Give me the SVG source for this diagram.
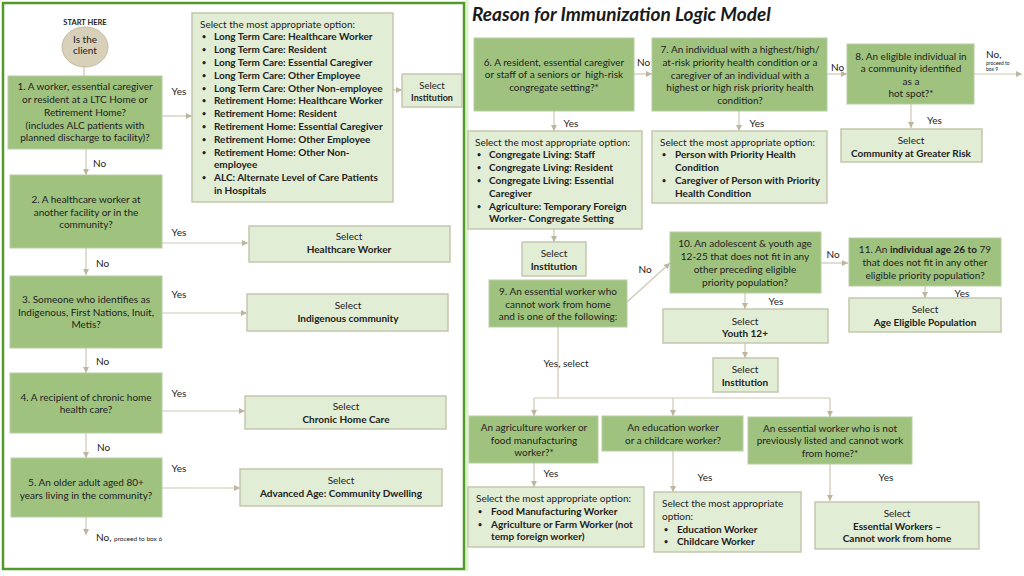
<svg xmlns="http://www.w3.org/2000/svg" width="1024" height="576" viewBox="0 0 1024 576">
<defs>
<marker id="arr" markerUnits="userSpaceOnUse" markerWidth="6" markerHeight="6" refX="6" refY="3" orient="auto">
<path d="M0,0 L6,3 L0,6 z" fill="#bdb59c"/>
</marker>
<style>
text{font-family:Lato,"Liberation Sans",sans-serif;font-size:10px;fill:#222}
.q{fill:#9fc37f;stroke:#b9cca4;stroke-width:1}
.a{fill:#e1edd5;stroke:#c6c6ae;stroke-width:1.5}
.c{fill:none;stroke:#cdc7b4;stroke-width:1.2}
.ar{marker-end:url(#arr)}
.m{text-anchor:middle}
.b{font-weight:bold}
.bu{font-size:7px;font-weight:bold}
</style>
</defs>
<rect x="0" y="0" width="1024" height="576" fill="#ffffff"/>
<rect x="465.5" y="0" width="3" height="571" fill="#ddf3cc"/>
<rect x="3" y="3" width="461" height="566" fill="none" stroke="#529a2c" stroke-width="2.5"/>
<text x="472" y="21" style="font-size:19px;font-weight:bold;font-style:italic;fill:#1a1a1a">Reason for Immunization Logic Model</text>

<g id="connectors">
<line class="c" x1="84" y1="67" x2="84" y2="76"/>
<line class="c ar" x1="162" y1="116" x2="192" y2="116"/>
<line class="c ar" x1="393" y1="90" x2="402" y2="90"/>
<line class="c ar" x1="86" y1="149" x2="86" y2="175"/>
<line class="c ar" x1="162" y1="243" x2="248" y2="243"/>
<line class="c ar" x1="86" y1="248" x2="86" y2="275"/>
<line class="c ar" x1="162" y1="313" x2="247" y2="313"/>
<line class="c ar" x1="86" y1="348" x2="86" y2="373"/>
<line class="c ar" x1="162" y1="411" x2="245" y2="411"/>
<line class="c ar" x1="86" y1="433" x2="86" y2="458"/>
<line class="c ar" x1="162" y1="488" x2="240" y2="488"/>
<line class="c ar" x1="86" y1="517" x2="86" y2="535"/>
<line class="c ar" x1="634" y1="74" x2="652" y2="74"/>
<line class="c ar" x1="827" y1="74" x2="847" y2="74"/>
<line class="c ar" x1="974" y1="74" x2="1022" y2="74"/>
<line class="c ar" x1="554" y1="111" x2="554" y2="131"/>
<line class="c ar" x1="739" y1="111" x2="739" y2="131"/>
<line class="c ar" x1="911" y1="104" x2="911" y2="128"/>
<line class="c ar" x1="554" y1="229" x2="554" y2="242"/>
<line class="c ar" x1="627" y1="302" x2="670" y2="263"/>
<line class="c ar" x1="821" y1="263" x2="848" y2="263"/>
<line class="c ar" x1="925" y1="286" x2="925" y2="298"/>
<line class="c ar" x1="745" y1="293" x2="745" y2="309"/>
<line class="c ar" x1="745" y1="343" x2="745" y2="358"/>
<line class="c" x1="558" y1="327" x2="558" y2="398"/>
<line class="c" x1="534" y1="398" x2="830" y2="398"/>
<line class="c ar" x1="534" y1="398" x2="534" y2="416"/>
<line class="c ar" x1="673" y1="398" x2="673" y2="416"/>
<line class="c ar" x1="830" y1="398" x2="830" y2="417"/>
<line class="c ar" x1="534" y1="463" x2="534" y2="487"/>
<line class="c ar" x1="673" y1="451" x2="673" y2="492"/>
<line class="c ar" x1="830" y1="464" x2="830" y2="501"/>
<text class="m" x="179" y="94.5">Yes</text>
<text x="93" y="166.5">No</text>
<text class="m" x="179" y="235.5">Yes</text>
<text x="96" y="266.5">No</text>
<text class="m" x="179" y="297.5">Yes</text>
<text x="96" y="364.5">No</text>
<text class="m" x="179" y="396.5">Yes</text>
<text x="97" y="450.5">No</text>
<text class="m" x="179" y="471.5">Yes</text>
<text x="96" y="540.5">No, <tspan style="font-size:6.5px">proceed to box 6</tspan></text>
<text class="m" x="643.5" y="65.5">No</text>
<text class="m" x="837.5" y="70.5">No</text>
<text x="986" y="57.5">No,</text>
<text x="986" y="64.5" style="font-size:5px">proceed to</text>
<text x="986" y="71" style="font-size:5px">box 9</text>
<text class="m" x="571" y="126.5">Yes</text>
<text class="m" x="757" y="126.5">Yes</text>
<text class="m" x="934.5" y="123.5">Yes</text>
<text class="m" x="645" y="272.5">No</text>
<text class="m" x="833" y="257.5">No</text>
<text class="m" x="962" y="296.5">Yes</text>
<text class="m" x="776" y="304.5">Yes</text>
<text class="m" x="566" y="366.5">Yes, select</text>
<text class="m" x="551" y="476.5">Yes</text>
<text class="m" x="705" y="480.5">Yes</text>
<text class="m" x="886" y="480.5">Yes</text>
</g>

<g id="start">
<text class="m b" x="85" y="24.5" style="font-size:7.5px">START HERE</text>
<ellipse cx="85" cy="47" rx="23" ry="20" fill="#d9d0b9" stroke="#c4bba2" stroke-width="1"/>
<text class="m" x="85" y="42.5">Is the</text>
<text class="m" x="85" y="53.5">client</text>
</g>

<g id="q1">
<rect class="q" x="8" y="76" width="154" height="73"/>
<text class="m" x="85" y="90">1. A worker, essential caregiver</text>
<text class="m" x="85" y="103">or resident at a LTC Home or</text>
<text class="m" x="85" y="116">Retirement Home?</text>
<text class="m" x="85" y="129">(includes ALC patients with</text>
<text class="m" x="85" y="141">planned discharge to facility)?</text>
</g>

<g id="opt-ltc">
<rect class="a" x="192" y="13" width="201" height="189"/>
<text x="200" y="27.5">Select the most appropriate option:</text>
<text class="bu" x="202" y="39">•</text><text class="b" x="214" y="39.5">Long Term Care: Healthcare Worker</text>
<text class="bu" x="202" y="52">•</text><text class="b" x="214" y="52.5">Long Term Care: Resident</text>
<text class="bu" x="202" y="65">•</text><text class="b" x="214" y="65.5">Long Term Care: Essential Caregiver</text>
<text class="bu" x="202" y="78">•</text><text class="b" x="214" y="78.5">Long Term Care: Other Employee</text>
<text class="bu" x="202" y="91">•</text><text class="b" x="214" y="91.5">Long Term Care: Other Non-employee</text>
<text class="bu" x="202" y="103">•</text><text class="b" x="214" y="103.5">Retirement Home: Healthcare Worker</text>
<text class="bu" x="202" y="116">•</text><text class="b" x="214" y="116.5">Retirement Home: Resident</text>
<text class="bu" x="202" y="129">•</text><text class="b" x="214" y="129.5">Retirement Home: Essential Caregiver</text>
<text class="bu" x="202" y="142">•</text><text class="b" x="214" y="142.5">Retirement Home: Other Employee</text>
<text class="bu" x="202" y="155">•</text><text class="b" x="214" y="155.5">Retirement Home: Other Non-</text>
<text class="b" x="214" y="167.5">employee</text>
<text class="bu" x="202" y="180">•</text><text class="b" x="214" y="180.5">ALC: Alternate Level of Care Patients</text>
<text class="b" x="214" y="193.5">in Hospitals</text>
</g>

<g id="sel-inst-1">
<rect class="a" x="402" y="74" width="60" height="33"/>
<text class="m" x="432" y="88.5" style="font-size:9.5px">Select</text>
<text class="m b" x="432" y="100.5" style="font-size:9px">Institution</text>
</g>

<g id="q2">
<rect class="q" x="10" y="175" width="152" height="73"/>
<text class="m" x="86" y="203">2. A healthcare worker at</text>
<text class="m" x="86" y="215.5">another facility or in the</text>
<text class="m" x="86" y="228">community?</text>
</g>
<g id="sel-hw">
<rect class="a" x="249" y="226" width="201" height="36"/>
<text class="m" x="349" y="239.5">Select</text>
<text class="m b" x="349" y="252.5">Healthcare Worker</text>
</g>

<g id="q3">
<rect class="q" x="10" y="276" width="152" height="72"/>
<text class="m" x="86" y="302.5">3. Someone who identifies as</text>
<text class="m" x="86" y="315.5">Indigenous, First Nations, Inuit,</text>
<text class="m" x="86" y="327.5">Metis?</text>
</g>
<g id="sel-ind">
<rect class="a" x="247" y="294" width="201" height="37"/>
<text class="m" x="348" y="308.5">Select</text>
<text class="m b" x="348" y="321.5">Indigenous community</text>
</g>

<g id="q4">
<rect class="q" x="10" y="373" width="152" height="60"/>
<text class="m" x="86" y="400.5">4. A recipient of chronic home</text>
<text class="m" x="86" y="412.5">health care?</text>
</g>
<g id="sel-chc">
<rect class="a" x="245" y="396" width="201" height="33"/>
<text class="m" x="346" y="409.5">Select</text>
<text class="m b" x="346" y="422.5">Chronic Home Care</text>
</g>

<g id="q5">
<rect class="q" x="11" y="458" width="151" height="59"/>
<text class="m" x="86" y="485.5">5. An older adult aged 80+</text>
<text class="m" x="86" y="498.5">years living in the community?</text>
</g>
<g id="sel-adv">
<rect class="a" x="240" y="469" width="202" height="37"/>
<text class="m" x="341" y="483.5">Select</text>
<text class="m b" x="341" y="496.5">Advanced Age: Community Dwelling</text>
</g>

<g id="q6">
<rect class="q" x="474" y="38" width="160" height="73"/>
<text class="m" x="554" y="65.5">6. A resident, essential caregiver</text>
<text class="m" x="554" y="77.5" xml:space="preserve">or staff of a seniors or  high-risk</text>
<text class="m" x="554" y="90.5">congregate setting?*</text>
</g>

<g id="q7">
<rect class="q" x="652" y="38" width="175" height="73"/>
<text class="m" x="740" y="52.5">7. An individual with a highest/high/</text>
<text class="m" x="740" y="65.5">at-risk priority health condition or a</text>
<text class="m" x="740" y="78.5">caregiver of an individual with a</text>
<text class="m" x="740" y="90.5">highest or high risk priority health</text>
<text class="m" x="740" y="103.5">condition?</text>
</g>

<g id="q8">
<rect class="q" x="847" y="44" width="127" height="60"/>
<text class="m" x="911" y="59.5">8. An eligible individual in</text>
<text class="m" x="911" y="71.5">a community identified</text>
<text class="m" x="911" y="84.5">as a</text>
<text class="m" x="911" y="96.5">hot spot?*</text>
</g>

<g id="opt-cong">
<rect class="a" x="468" y="131" width="174" height="98"/>
<text x="475" y="145.5">Select the most appropriate option:</text>
<text class="bu" x="477" y="157">•</text><text class="b" x="489" y="157.5">Congregate Living: Staff</text>
<text class="bu" x="477" y="170">•</text><text class="b" x="489" y="170.5">Congregate Living: Resident</text>
<text class="bu" x="477" y="183">•</text><text class="b" x="489" y="183.5">Congregate Living: Essential</text>
<text class="b" x="489" y="196.5">Caregiver</text>
<text class="bu" x="477" y="209">•</text><text class="b" x="489" y="209.5">Agriculture: Temporary Foreign</text>
<text class="b" x="489" y="221.5">Worker- Congregate Setting</text>
</g>

<g id="opt-health">
<rect class="a" x="652" y="131" width="175" height="72"/>
<text x="660" y="145.5">Select the most appropriate option:</text>
<text class="bu" x="662" y="157">•</text><text class="b" x="675" y="157.5">Person with Priority Health</text>
<text class="b" x="675" y="170.5">Condition</text>
<text class="bu" x="662" y="183">•</text><text class="b" x="675" y="183.5">Caregiver of Person with Priority</text>
<text class="b" x="675" y="196.5">Health Condition</text>
</g>

<g id="sel-community">
<rect class="a" x="841" y="129" width="141" height="33"/>
<text class="m" x="911" y="143.5">Select</text>
<text class="m b" x="911" y="156.5">Community at Greater Risk</text>
</g>

<g id="sel-inst-2">
<rect class="a" x="522" y="242" width="64" height="34"/>
<text class="m" x="554" y="256.5">Select</text>
<text class="m b" x="554" y="269.5">Institution</text>
</g>

<g id="q9">
<rect class="q" x="489" y="280" width="138" height="47"/>
<text class="m" x="558" y="294.5">9. An essential worker who</text>
<text class="m" x="558" y="307.5">cannot work from home</text>
<text class="m" x="558" y="319.5">and is one of the following:</text>
</g>

<g id="q10">
<rect class="q" x="670" y="232" width="151" height="61"/>
<text class="m" x="745" y="246.5">10. An adolescent &amp; youth age</text>
<text class="m" x="745" y="260">12-25 that does not fit in any</text>
<text class="m" x="745" y="272.5">other preceding eligible</text>
<text class="m" x="745" y="285.5">priority population?</text>
</g>

<g id="q11">
<rect class="q" x="849" y="238" width="152" height="48"/>
<text class="m" x="925" y="252.5">11. An <tspan class="b">individual age 26 to</tspan> 79</text>
<text class="m" x="925" y="265.5">that does not fit in any other</text>
<text class="m" x="925" y="278.5">eligible priority population?</text>
</g>

<g id="sel-age">
<rect class="a" x="849" y="298" width="152" height="34"/>
<text class="m" x="925" y="312.5">Select</text>
<text class="m b" x="925" y="325.5">Age Eligible Population</text>
</g>

<g id="sel-youth">
<rect class="a" x="663" y="309" width="165" height="34"/>
<text class="m" x="745" y="324.5">Select</text>
<text class="m b" x="745" y="336.5">Youth 12+</text>
</g>

<g id="sel-inst-3">
<rect class="a" x="713" y="358" width="65" height="34"/>
<text class="m" x="745" y="372.5">Select</text>
<text class="m b" x="745" y="385.5">Institution</text>
</g>

<g id="qa">
<rect class="q" x="469" y="416" width="129" height="47"/>
<text class="m" x="534" y="430.5">An agriculture worker or</text>
<text class="m" x="534" y="443.5">food manufacturing</text>
<text class="m" x="534" y="455.5">worker?*</text>
</g>

<g id="qb">
<rect class="q" x="602" y="416" width="141" height="35"/>
<text class="m" x="673" y="430.5">An education worker</text>
<text class="m" x="673" y="443.5">or a childcare worker?</text>
</g>

<g id="qc">
<rect class="q" x="748" y="417" width="164" height="47"/>
<text class="m" x="830" y="431.5">An essential worker who is not</text>
<text class="m" x="830" y="443.5">previously listed and cannot work</text>
<text class="m" x="830" y="456.5">from home?*</text>
</g>

<g id="opt-agri">
<rect class="a" x="468" y="487" width="176" height="60"/>
<text x="476" y="501.5">Select the most appropriate option:</text>
<text class="bu" x="478" y="514">•</text><text class="b" x="491" y="514.5">Food Manufacturing Worker</text>
<text class="bu" x="478" y="527">•</text><text class="b" x="491" y="527.5">Agriculture or Farm Worker (not</text>
<text class="b" x="491" y="539.5">temp foreign worker)</text>
</g>

<g id="opt-edu">
<rect class="a" x="654" y="492" width="147" height="60"/>
<text x="662" y="506.5">Select the most appropriate</text>
<text x="662" y="519.5">option:</text>
<text class="bu" x="664" y="532">•</text><text class="b" x="677" y="532.5">Education Worker</text>
<text class="bu" x="664" y="544">•</text><text class="b" x="677" y="544.5">Childcare Worker</text>
</g>

<g id="sel-essential">
<rect class="a" x="815" y="502" width="164" height="47"/>
<text class="m" x="897" y="516.5">Select</text>
<text class="m b" x="897" y="529.5">Essential Workers –</text>
<text class="m b" x="897" y="541.5">Cannot work from home</text>
</g>
</svg>
